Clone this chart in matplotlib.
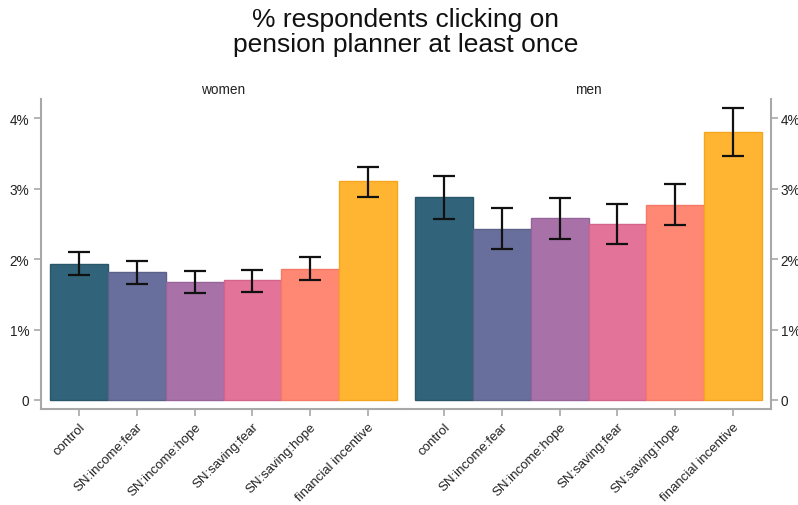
import numpy as np
import matplotlib
matplotlib.use('Agg')
import matplotlib.pyplot as plt

plt.rcParams['font.family'] = ['Liberation Sans', 'DejaVu Sans']

# treatment arms and share of respondents (%) who clicked at least once
treatments = ['control', 'SN:income:fear', 'SN:income:hope',
              'SN:saving:fear', 'SN:saving:hope', 'financial incentive']
women_pct = [1.93, 1.82, 1.68, 1.70, 1.86, 3.11]
women_lo = [1.77, 1.65, 1.52, 1.54, 1.70, 2.89]
women_hi = [2.10, 1.98, 1.83, 1.85, 2.03, 3.31]
men_pct = [2.88, 2.43, 2.58, 2.50, 2.77, 3.80]
men_lo = [2.57, 2.15, 2.29, 2.21, 2.48, 3.46]
men_hi = [3.18, 2.72, 2.87, 2.78, 3.07, 4.15]
y_ticks = [0, 1, 2, 3, 4]
y_labels = ['0', '1%', '2%', '3%', '4%']

colors = ['#31647a', '#686f9c', '#a872a8', '#e37399', '#ff8875', '#ffb432']
edges = ['#2a566a', '#5b6189', '#96649a', '#d4648a', '#f27a67', '#f5a520']
spine_col = '#a8a8a8'

fig = plt.figure(figsize=(7.98, 5.06), dpi=100)
ax_w = fig.add_axes([0.0514, 0.1897, 0.4574, 0.6127])
ax_m = fig.add_axes([0.5088, 0.1897, 0.4574, 0.6127])


def draw_panel(ax, vals, lo, hi, title, side):
    x = np.arange(len(treatments))
    vals = np.array(vals)
    yerr = np.array([vals - np.array(lo), np.array(hi) - vals])
    ax.bar(x, vals, width=1.0, color=colors, edgecolor=edges, linewidth=1.0)
    ax.errorbar(x, vals, yerr=yerr, fmt='none', ecolor='#111111',
                elinewidth=1.6, capsize=8, capthick=1.6)
    ax.set_xlim(-0.656, 5.656)
    ax.set_ylim(-0.128, 4.275)
    ax.set_xticks(x)
    ax.set_xticklabels(treatments, rotation=45, ha='right',
                       rotation_mode='anchor', fontsize=9.5, color='#222222')
    ax.set_yticks(y_ticks)
    ax.set_yticklabels(y_labels, fontsize=9.8, color='#222222')
    ax.set_title(title, fontsize=9.8, color='#222222', pad=4)
    for s in ['top', 'left', 'right']:
        ax.spines[s].set_visible(False)
    ax.spines['bottom'].set_color(spine_col)
    ax.spines['bottom'].set_linewidth(1.5)
    ax.spines[side].set_visible(True)
    ax.spines[side].set_color(spine_col)
    ax.spines[side].set_linewidth(1.5)
    ax.tick_params(axis='both', colors=spine_col, length=5, width=1.2,
                   labelcolor='#222222')
    ax.tick_params(axis='x', pad=3)
    if side == 'right':
        ax.yaxis.tick_right()
        ax.yaxis.set_label_position('right')
        ax.tick_params(axis='y', pad=2)


draw_panel(ax_w, women_pct, women_lo, women_hi, 'women', 'left')
draw_panel(ax_m, men_pct, men_lo, men_hi, 'men', 'right')

fig.suptitle('% respondents clicking on\npension planner at least once',
             fontsize=19, x=0.508, y=0.984, va='top', linespacing=1.05,
             color='#111111')

fig.savefig('out.png', dpi=100)
